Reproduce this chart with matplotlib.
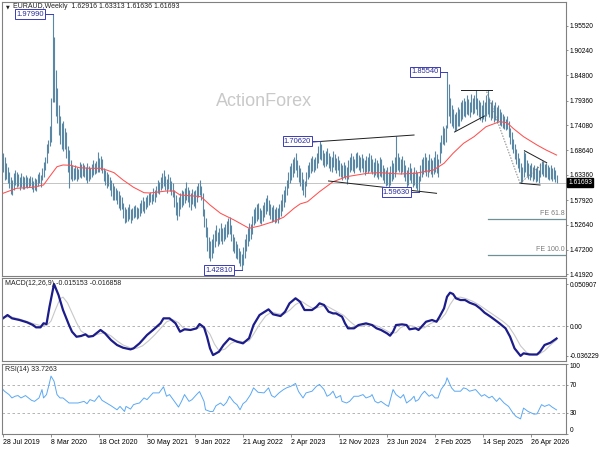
import matplotlib
matplotlib.use('Agg')
import matplotlib.pyplot as plt
import matplotlib.transforms as mtransforms

plt.rcParams['font.family'] = ['Liberation Sans', 'DejaVu Sans']

SYMBOL = 'EURAUD,Weekly'
LAST_OHLC = ['1.62916', '1.63313', '1.61636', '1.61693']
LAST_PRICE = 1.61693

DATE_WEEKS = [0, 32, 64, 96, 128, 160, 192, 224, 256, 288, 320, 352]
DATE_LABELS = ['28 Jul 2019', '8 Mar 2020', '18 Oct 2020', '30 May 2021', '9 Jan 2022',
               '21 Aug 2022', '2 Apr 2023', '12 Nov 2023', '23 Jun 2024', '2 Feb 2025',
               '14 Sep 2025', '26 Apr 2026']

PRICE_TICKS = [1.41920, 1.47200, 1.52640, 1.57920, 1.63360, 1.68640,
               1.74080, 1.79360, 1.84800, 1.90240, 1.95520]

# weekly bars, one entry per week from 28 Jul 2019
HIGHS = [
    1.680, 1.672, 1.659, 1.650, 1.640, 1.628, 1.622, 1.637, 1.644, 1.640,
    1.635, 1.629, 1.637, 1.632, 1.628, 1.633, 1.630, 1.626, 1.632, 1.628,
    1.620, 1.627, 1.624, 1.636, 1.640, 1.633, 1.648, 1.661, 1.672, 1.700,
    1.709, 1.740, 1.800, 1.9799, 1.930, 1.860, 1.820, 1.785, 1.760, 1.745,
    1.750, 1.735, 1.725, 1.695, 1.687, 1.665, 1.655, 1.648, 1.655, 1.650,
    1.646, 1.661, 1.657, 1.660, 1.655, 1.650, 1.659, 1.652, 1.648, 1.657,
    1.666, 1.660, 1.664, 1.683, 1.670, 1.675, 1.667, 1.648, 1.645, 1.640,
    1.636, 1.630, 1.622, 1.615, 1.610, 1.605, 1.601, 1.598, 1.590, 1.585,
    1.573, 1.565, 1.560, 1.565, 1.570, 1.560, 1.562, 1.566, 1.568, 1.565,
    1.563, 1.573, 1.580, 1.586, 1.578, 1.585, 1.590, 1.595, 1.597, 1.592,
    1.605, 1.600, 1.610, 1.622, 1.618, 1.630, 1.638, 1.644, 1.632, 1.625,
    1.636, 1.630, 1.620, 1.615, 1.600, 1.590, 1.575, 1.585, 1.595, 1.600,
    1.598, 1.605, 1.618, 1.607, 1.600, 1.595, 1.603, 1.598, 1.600, 1.610,
    1.615, 1.622, 1.610, 1.594, 1.560, 1.540, 1.521, 1.500, 1.490, 1.495,
    1.505, 1.515, 1.525, 1.510, 1.520, 1.530, 1.518, 1.522, 1.528, 1.535,
    1.540, 1.543, 1.525, 1.505, 1.500, 1.490, 1.485, 1.475, 1.470, 1.462,
    1.478, 1.495, 1.505, 1.518, 1.530, 1.528, 1.545, 1.560, 1.565, 1.570,
    1.573, 1.562, 1.558, 1.568, 1.575, 1.583, 1.590, 1.580, 1.570, 1.565,
    1.568, 1.560, 1.565, 1.563, 1.570, 1.580, 1.592, 1.600, 1.610, 1.622,
    1.640, 1.652, 1.660, 1.667, 1.672, 1.681, 1.665, 1.655, 1.648, 1.640,
    1.625, 1.620, 1.640, 1.655, 1.662, 1.670, 1.675, 1.668, 1.672, 1.680,
    1.695, 1.7062, 1.700, 1.688, 1.680, 1.685, 1.692, 1.680, 1.675, 1.672,
    1.685, 1.678, 1.670, 1.675, 1.665, 1.660, 1.655, 1.662, 1.655, 1.650,
    1.665, 1.672, 1.680, 1.675, 1.668, 1.680, 1.683, 1.676, 1.672, 1.678,
    1.670, 1.665, 1.675, 1.672, 1.680, 1.676, 1.668, 1.662, 1.670, 1.665,
    1.660, 1.672, 1.668, 1.655, 1.648, 1.645, 1.650, 1.640, 1.652, 1.665,
    1.660, 1.672, 1.717, 1.680, 1.673, 1.668, 1.675, 1.665, 1.655, 1.645,
    1.650, 1.660, 1.648, 1.640, 1.650, 1.645, 1.640, 1.632, 1.655, 1.668,
    1.672, 1.680, 1.672, 1.665, 1.678, 1.670, 1.665, 1.672, 1.685, 1.678,
    1.668, 1.705, 1.720, 1.740, 1.735, 1.742, 1.8554, 1.830, 1.800, 1.785,
    1.775, 1.765, 1.770, 1.780, 1.775, 1.790, 1.795, 1.800, 1.792, 1.805,
    1.798, 1.790, 1.808, 1.800, 1.805, 1.8165, 1.800, 1.795, 1.790, 1.785,
    1.795, 1.790, 1.805, 1.8165, 1.800, 1.790, 1.795, 1.785, 1.790, 1.780,
    1.785, 1.775, 1.770, 1.765, 1.760, 1.755, 1.760, 1.750, 1.735, 1.725,
    1.710, 1.700, 1.690, 1.680, 1.670, 1.660, 1.650, 1.686, 1.680, 1.665,
    1.660, 1.655, 1.660, 1.650, 1.655, 1.648, 1.652, 1.645, 1.660, 1.664,
    1.663, 1.658, 1.660, 1.655, 1.650, 1.655, 1.648, 1.650, 1.645, 1.63313,
]
LOWS = [
    1.640, 1.622, 1.625, 1.617, 1.605, 1.592, 1.590, 1.600, 1.612, 1.607,
    1.609, 1.600, 1.608, 1.603, 1.604, 1.607, 1.605, 1.608, 1.610, 1.603,
    1.597, 1.600, 1.598, 1.610, 1.615, 1.607, 1.622, 1.630, 1.645, 1.660,
    1.680, 1.695, 1.705, 1.790, 1.790, 1.760, 1.745, 1.720, 1.700, 1.690,
    1.685, 1.690, 1.670, 1.640, 1.605, 1.625, 1.620, 1.622, 1.625, 1.620,
    1.625, 1.630, 1.627, 1.632, 1.628, 1.622, 1.616, 1.620, 1.625, 1.630,
    1.633, 1.635, 1.638, 1.640, 1.640, 1.645, 1.638, 1.620, 1.612, 1.605,
    1.610, 1.600, 1.588, 1.580, 1.579, 1.580, 1.570, 1.562, 1.558, 1.560,
    1.540, 1.530, 1.532, 1.535, 1.538, 1.530, 1.536, 1.540, 1.542, 1.538,
    1.540, 1.545, 1.552, 1.555, 1.551, 1.560, 1.565, 1.568, 1.575, 1.570,
    1.578, 1.575, 1.586, 1.595, 1.592, 1.600, 1.605, 1.610, 1.600, 1.595,
    1.603, 1.598, 1.590, 1.585, 1.565, 1.548, 1.536, 1.545, 1.560, 1.565,
    1.568, 1.572, 1.580, 1.575, 1.565, 1.558, 1.570, 1.566, 1.562, 1.575,
    1.585, 1.590, 1.580, 1.545, 1.521, 1.500, 1.470, 1.455, 1.447, 1.455,
    1.465, 1.478, 1.490, 1.480, 1.485, 1.492, 1.485, 1.490, 1.495, 1.500,
    1.505, 1.505, 1.490, 1.470, 1.465, 1.455, 1.452, 1.443, 1.438, 1.4281,
    1.440, 1.455, 1.470, 1.480, 1.490, 1.495, 1.505, 1.525, 1.530, 1.535,
    1.538, 1.530, 1.528, 1.535, 1.542, 1.550, 1.555, 1.548, 1.538, 1.532,
    1.535, 1.530, 1.533, 1.530, 1.538, 1.545, 1.555, 1.565, 1.575, 1.590,
    1.605, 1.615, 1.622, 1.630, 1.638, 1.645, 1.630, 1.618, 1.610, 1.600,
    1.590, 1.585, 1.610, 1.625, 1.630, 1.638, 1.642, 1.640, 1.645, 1.648,
    1.660, 1.668, 1.665, 1.655, 1.650, 1.652, 1.658, 1.648, 1.642, 1.640,
    1.650, 1.645, 1.638, 1.645, 1.632, 1.628, 1.622, 1.630, 1.625, 1.614,
    1.625, 1.640, 1.645, 1.642, 1.638, 1.648, 1.650, 1.645, 1.640, 1.648,
    1.640, 1.633, 1.640, 1.638, 1.642, 1.640, 1.635, 1.630, 1.633, 1.628,
    1.625, 1.632, 1.630, 1.622, 1.615, 1.610, 1.612, 1.605, 1.612, 1.620,
    1.625, 1.630, 1.640, 1.645, 1.640, 1.635, 1.640, 1.630, 1.620, 1.605,
    1.612, 1.622, 1.615, 1.608, 1.612, 1.605, 1.600, 1.5963, 1.620, 1.628,
    1.635, 1.640, 1.632, 1.630, 1.640, 1.635, 1.628, 1.635, 1.640, 1.638,
    1.630, 1.660, 1.680, 1.700, 1.698, 1.705, 1.735, 1.760, 1.745, 1.740,
    1.735, 1.728, 1.730, 1.740, 1.738, 1.750, 1.755, 1.760, 1.758, 1.765,
    1.762, 1.758, 1.770, 1.765, 1.768, 1.775, 1.762, 1.758, 1.752, 1.748,
    1.755, 1.750, 1.760, 1.765, 1.758, 1.752, 1.756, 1.748, 1.752, 1.745,
    1.750, 1.742, 1.740, 1.735, 1.732, 1.730, 1.733, 1.715, 1.700, 1.690,
    1.680, 1.668, 1.658, 1.648, 1.640, 1.616, 1.618, 1.630, 1.640, 1.632,
    1.625, 1.622, 1.628, 1.620, 1.625, 1.618, 1.620, 1.616, 1.628, 1.635,
    1.632, 1.628, 1.630, 1.625, 1.622, 1.625, 1.620, 1.625, 1.618, 1.61636,
]

MA_WEEKS = [0, 9, 20, 27, 31, 36, 40, 45, 51, 58, 65, 69, 74, 80, 87, 94, 98, 109, 114,
            118, 127, 132, 138, 145, 154, 164, 171, 180, 187, 194, 198, 203, 211, 220,
            229, 243, 251, 265, 275, 287, 294, 300, 307, 314, 322, 331, 336, 340, 347,
            356, 362, 369]
MA_VALUES = [1.5938, 1.6046, 1.6068, 1.6117, 1.6296, 1.6512, 1.6549, 1.6542, 1.6490,
             1.6477, 1.6477, 1.6441, 1.6383, 1.6225, 1.6068, 1.5951, 1.5945, 1.5988,
             1.5988, 1.5902, 1.5880, 1.5865, 1.5686, 1.5507, 1.5363, 1.5184, 1.5233,
             1.5326, 1.5421, 1.5615, 1.5708, 1.5757, 1.5973, 1.6188, 1.6296, 1.6370,
             1.6383, 1.6355, 1.6370, 1.6441, 1.6585, 1.6800, 1.7016, 1.7159, 1.7374,
             1.7482, 1.7461, 1.7340, 1.7159, 1.6979, 1.6872, 1.6763]

MACD_WEEKS = [0, 3, 6, 11, 16, 20, 22, 25, 27, 29, 31, 34, 37, 40, 44, 46, 49, 52, 55,
              57, 60, 65, 68, 72, 76, 80, 85, 87, 91, 96, 100, 105, 107, 111, 115, 118,
              121, 125, 129, 131, 134, 136, 138, 140, 144, 147, 151, 156, 160, 164, 167,
              171, 177, 180, 185, 188, 191, 195, 198, 201, 206, 209, 211, 214, 217, 220,
              222, 226, 228, 230, 234, 237, 242, 246, 249, 252, 256, 258, 260, 262, 266,
              269, 271, 275, 277, 279, 282, 286, 289, 291, 294, 296, 298, 300, 302, 305,
              308, 311, 315, 318, 321, 325, 328, 331, 335, 338, 341, 345, 347, 351, 356,
              358, 361, 365, 369]
MACD_VALUES = [0.0093, 0.0133, 0.0093, 0.0073, 0.0045, 0.0012, -0.0016, -0.0016, 0.0033,
               0.0024, 0.0234, 0.0509, 0.0376, 0.0194, 0.0012, -0.0069, -0.0130, -0.0121,
               -0.0101, -0.0130, -0.0121, -0.0048, -0.0089, -0.0170, -0.0230, -0.0263,
               -0.0283, -0.0271, -0.0210, -0.0109, -0.0048, 0.0033, 0.0093, 0.0093, 0.0033,
               -0.0069, -0.0040, -0.0048, -0.0028, 0.0024, -0.0016, -0.0130, -0.0271,
               -0.0352, -0.0311, -0.0230, -0.0149, -0.0190, -0.0210, -0.0149, 0.0012,
               0.0133, 0.0202, 0.0142, 0.0121, 0.0173, 0.0275, 0.0336, 0.0295, 0.0194,
               0.0194, 0.0234, 0.0275, 0.0255, 0.0174, 0.0153, 0.0153, 0.0113, 0.0032,
               -0.0028, -0.0028, 0.0012, 0.0032, 0.0012, -0.0028, -0.0048, -0.0089,
               -0.0117, -0.0069, 0.0012, 0.0020, 0.0012, -0.0040, -0.0028, -0.0048,
               -0.0008, 0.0052, 0.0073, 0.0052, 0.0113, 0.0214, 0.0355, 0.0404, 0.0388,
               0.0335, 0.0315, 0.0315, 0.0283, 0.0255, 0.0214, 0.0162, 0.0113, 0.0073,
               0.0032, -0.0028, -0.0129, -0.0271, -0.0362, -0.0331, -0.0345, -0.0345,
               -0.0311, -0.0230, -0.0202, -0.015153]

SIGNAL_WEEKS = [0, 5, 10, 15, 20, 25, 29, 32, 35, 38, 40, 43, 46, 49, 52, 56, 60, 64, 68,
                72, 76, 80, 85, 89, 93, 97, 101, 105, 109, 113, 117, 120, 124, 128, 132,
                135, 138, 141, 144, 148, 152, 156, 160, 164, 167, 171, 175, 179, 183, 187,
                191, 195, 199, 203, 207, 211, 215, 219, 223, 227, 231, 235, 239, 243, 247,
                251, 255, 259, 262, 265, 269, 273, 277, 281, 285, 289, 292, 295, 298, 301,
                305, 309, 313, 317, 321, 325, 329, 333, 337, 341, 345, 349, 353, 357, 361,
                365, 369]
SIGNAL_VALUES = [0.0110, 0.0112, 0.0090, 0.0062, 0.0030, 0.0005, 0.0005, 0.0060, 0.0200,
                 0.0330, 0.0350, 0.0280, 0.0160, 0.0040, -0.0060, -0.0110, -0.0120, -0.0095,
                 -0.0080, -0.0120, -0.0180, -0.0230, -0.0265, -0.0270, -0.0240, -0.0180,
                 -0.0110, -0.0030, 0.0050, 0.0080, 0.0040, -0.0020, -0.0045, -0.0040,
                 -0.0015, -0.0030, -0.0100, -0.0220, -0.0300, -0.0280, -0.0210, -0.0180,
                 -0.0190, -0.0180, -0.0100, 0.0020, 0.0120, 0.0170, 0.0150, 0.0140, 0.0190,
                 0.0260, 0.0300, 0.0250, 0.0210, 0.0230, 0.0250, 0.0210, 0.0170, 0.0130,
                 0.0060, 0.0000, -0.0005, 0.0015, 0.0015, -0.0010, -0.0050, -0.0090,
                 -0.0080, -0.0020, 0.0010, 0.0000, -0.0030, -0.0020, 0.0030, 0.0060, 0.0085,
                 0.0150, 0.0260, 0.0340, 0.0350, 0.0330, 0.0300, 0.0260, 0.0210, 0.0160,
                 0.0110, 0.0060, 0.0000, -0.0110, -0.0240, -0.0320, -0.0350, -0.0345,
                 -0.0300, -0.0230, -0.016858]

RSI_WEEKS = [0, 1, 4, 6, 8, 10, 12, 15, 17, 19, 21, 24, 26, 27, 29, 31, 32, 34, 36, 38,
             40, 44, 46, 50, 54, 56, 58, 61, 64, 66, 69, 72, 76, 78, 81, 82, 85, 87, 89,
             91, 94, 96, 98, 100, 104, 107, 109, 111, 115, 117, 119, 121, 124, 126, 129,
             131, 134, 135, 138, 140, 142, 145, 147, 149, 151, 154, 156, 158, 160, 162,
             165, 167, 170, 174, 177, 179, 181, 184, 187, 189, 192, 195, 197, 200, 202,
             206, 209, 211, 214, 216, 218, 220, 222, 225, 226, 229, 231, 234, 237, 240,
             242, 245, 246, 248, 250, 252, 255, 257, 260, 262, 265, 267, 269, 272, 274,
             275, 277, 279, 281, 284, 286, 288, 290, 292, 295, 296, 299, 301, 305, 307,
             309, 311, 315, 317, 319, 321, 324, 326, 329, 331, 334, 337, 340, 342, 345,
             347, 350, 354, 356, 359, 361, 364, 366, 369]
RSI_VALUES = [62.8, 60.4, 55.6, 50.8, 53.2, 54.2, 50.8, 54.2, 50.8, 47.4, 45.9, 50.8, 62.8,
              50.8, 55.6, 72.5, 82.0, 74.8, 55.6, 50.8, 50.8, 43.6, 43.6, 43.6, 45.9, 42.6,
              48.4, 45.9, 54.2, 47.4, 43.6, 39.7, 33.9, 38.7, 31.5, 38.7, 34.9, 41.2, 42.6,
              43.6, 50.8, 48.4, 53.2, 58.0, 58.0, 66.7, 53.2, 55.6, 43.6, 37.8, 45.9, 55.6,
              45.9, 48.4, 55.6, 59.9, 45.9, 33.9, 31.5, 31.5, 39.7, 43.6, 39.7, 44.5, 53.2,
              44.5, 41.2, 33.9, 42.6, 45.9, 55.6, 65.2, 58.9, 58.0, 65.2, 54.2, 51.7, 58.0,
              62.8, 65.2, 67.6, 71.5, 60.0, 50.8, 58.0, 60.4, 67.6, 70.0, 62.8, 53.2, 55.6,
              60.4, 50.8, 54.2, 45.9, 43.6, 45.9, 53.2, 53.2, 55.6, 50.8, 53.2, 55.6, 45.9,
              43.6, 45.9, 41.2, 38.7, 62.8, 55.6, 50.8, 55.6, 43.6, 48.4, 53.2, 45.9, 48.4,
              55.6, 60.4, 53.2, 55.6, 50.8, 50.8, 62.8, 72.0, 79.6, 65.2, 60.4, 60.4, 65.2,
              63.8, 60.4, 62.8, 58.0, 53.2, 55.6, 50.8, 53.2, 45.9, 50.8, 43.6, 38.7, 29.1,
              24.3, 20.9, 36.3, 31.5, 27.6, 28.1, 41.2, 38.7, 41.2, 37.8, 33.7263]

PEAK_PRICES = [1.97990, 1.85540, 1.70620, 1.59630, 1.42810]
PEAK_WEEKS = [33, 296, 211, 277, 159]

# drawn trend lines: (week, price) pairs
TRENDLINES = [
    [(206, 1.7044), (274, 1.7195)],
    [(217, 1.6204), (289, 1.5938)],
    [(305, 1.8165), (326, 1.8165)],
    [(301, 1.7260), (321, 1.7605)],
    [(347.6, 1.6857), (362.4, 1.6598)],
    [(344.7, 1.6154), (358, 1.6117)],
]
DOTTED_LINES = [
    [(322.4, 1.8130), (344.7, 1.6154)],
    [(344.7, 1.6154), (361.3, 1.6620)],
]
FE_LEVELS = [1.5378, 1.4608]
FE_LABELS = ['FE 61.8', 'FE 100.0']
FE_START = 323.3

BAR_COLOR = '#5a88a4'
FRAME = '#808080'
W, H = 600, 450
X_LEFT, X_RIGHT = 2, 566


def fig_box(top, bottom):
    return [X_LEFT / W, 1 - bottom / H, (X_RIGHT - X_LEFT) / W, (bottom - top) / H]


def style_axes(ax):
    for side in ax.spines:
        ax.spines[side].set_color(FRAME)
        ax.spines[side].set_linewidth(0.8)
    ax.set_xlim(-0.67, 375.3)
    ax.yaxis.tick_right()
    ax.tick_params(axis='y', direction='out', length=1.6, width=0.6, pad=1,
                   labelsize=4.8, color=FRAME)
    ax.tick_params(axis='x', bottom=False, labelbottom=False)


def draw_price(ax):
    weeks = list(range(len(HIGHS)))
    ax.axhline(LAST_PRICE, color='#c4c4c4', lw=0.7, zorder=1)
    ax.vlines(weeks, LOWS, HIGHS, color=BAR_COLOR, lw=0.8, zorder=2)
    ax.plot(MA_WEEKS, MA_VALUES, color='#ff5050', lw=0.75, zorder=3)
    ax.set_ylim(1.4155, 2.0063)
    ax.set_yticks(PRICE_TICKS)
    ax.set_yticklabels(['%.5f' % p for p in PRICE_TICKS])

    for line in TRENDLINES:
        ax.plot([line[0][0], line[1][0]], [line[0][1], line[1][1]], color='#1e1e1e', lw=0.7, zorder=4)
    for line in DOTTED_LINES:
        ax.plot([line[0][0], line[1][0]], [line[0][1], line[1][1]], color='#808080', lw=0.7,
                ls=(0, (1.5, 1.5)), zorder=4)

    for level, label in zip(FE_LEVELS, FE_LABELS):
        ax.plot([FE_START, 375.3], [level, level], color='#6f9096', lw=0.9, zorder=4)
        ax.text(374.5, level + 0.004, label, ha='right', va='bottom', fontsize=5, color='#7a7a7a')

    for price, week in zip(PEAK_PRICES, PEAK_WEEKS):
        ax.plot([week - 5, week], [price, price], color='#3a3ab8', lw=0.7, zorder=5)
        ax.text(week - 5.6, price, '%.5f' % price, ha='right', va='center', fontsize=5.4,
                color='#2a2a9a', zorder=6,
                bbox=dict(boxstyle='square,pad=0.18', fc='white', ec='#3a3ab8', lw=0.7))

    ax.text(142, 1.7928, 'ActionForex', fontsize=13, color='#c9c9c9', va='center', zorder=0)
    ax.text(0.007, 0.982, '\u25bc', transform=ax.transAxes, fontsize=3.5, va='center',
            family='DejaVu Sans', color='#202020')
    ax.text(0.0195, 0.982, SYMBOL + '  ' + ' '.join(LAST_OHLC), transform=ax.transAxes,
            fontsize=5, va='center', color='#202020')

    trans = mtransforms.blended_transform_factory(ax.transAxes, ax.transData)
    ax.text(1.004, LAST_PRICE, '%.5f' % LAST_PRICE, transform=trans, ha='left', va='center',
            fontsize=4.8, color='white', zorder=7,
            bbox=dict(boxstyle='square,pad=0.2', fc='black', ec='black'))


def draw_macd(ax):
    ax.axhline(0, color='#a8a8a8', lw=0.6, ls=(0, (3, 3)))
    ax.plot(SIGNAL_WEEKS, SIGNAL_VALUES, color='#c8c8c8', lw=0.8)
    ax.plot(MACD_WEEKS, MACD_VALUES, color='#1c1c8a', lw=1.6)
    ax.set_ylim(-0.0424, 0.0582)
    ax.set_yticks([0.050907, 0.0, -0.036229])
    ax.set_yticklabels(['0.050907', '0.00', '-0.036229'])
    ax.text(0.005, 0.93, 'MACD(12,26,9) %s %s' % ('%.6f' % MACD_VALUES[-1], '%.6f' % SIGNAL_VALUES[-1]),
            transform=ax.transAxes, fontsize=5, va='center', color='#202020')


def draw_rsi(ax):
    for level in (70, 30):
        ax.axhline(level, color='#a8a8a8', lw=0.6, ls=(0, (3, 3)))
    ax.plot(RSI_WEEKS, RSI_VALUES, color='#5aa8f5', lw=0.7)
    ax.set_ylim(0, 100)
    ax.set_yticks([100, 70, 30, 0])
    ax.set_yticklabels(['100', '70', '30', '0'])
    labels = ax.get_yticklabels()
    labels[0].set_va('top')
    labels[3].set_va('bottom')
    ax.text(0.005, 0.92, 'RSI(14) %.4f' % RSI_VALUES[-1], transform=ax.transAxes,
            fontsize=5, va='center', color='#202020')
    ax.tick_params(axis='x', bottom=True, labelbottom=True, direction='out', length=2.5,
                   width=0.6, pad=1.5, labelsize=5, color=FRAME)
    ax.set_xticks(DATE_WEEKS)
    ax.set_xticklabels(DATE_LABELS, ha='left')


def main():
    fig = plt.figure(figsize=(6, 4.5), dpi=100, facecolor='white')
    ax_price = fig.add_axes(fig_box(2, 276))
    ax_macd = fig.add_axes(fig_box(278, 361))
    ax_rsi = fig.add_axes(fig_box(363.5, 433.5))
    for ax in (ax_price, ax_macd, ax_rsi):
        style_axes(ax)
    draw_price(ax_price)
    draw_macd(ax_macd)
    draw_rsi(ax_rsi)
    fig.savefig('out.png', dpi=100, facecolor='white')


if __name__ == "__main__":
    main()
